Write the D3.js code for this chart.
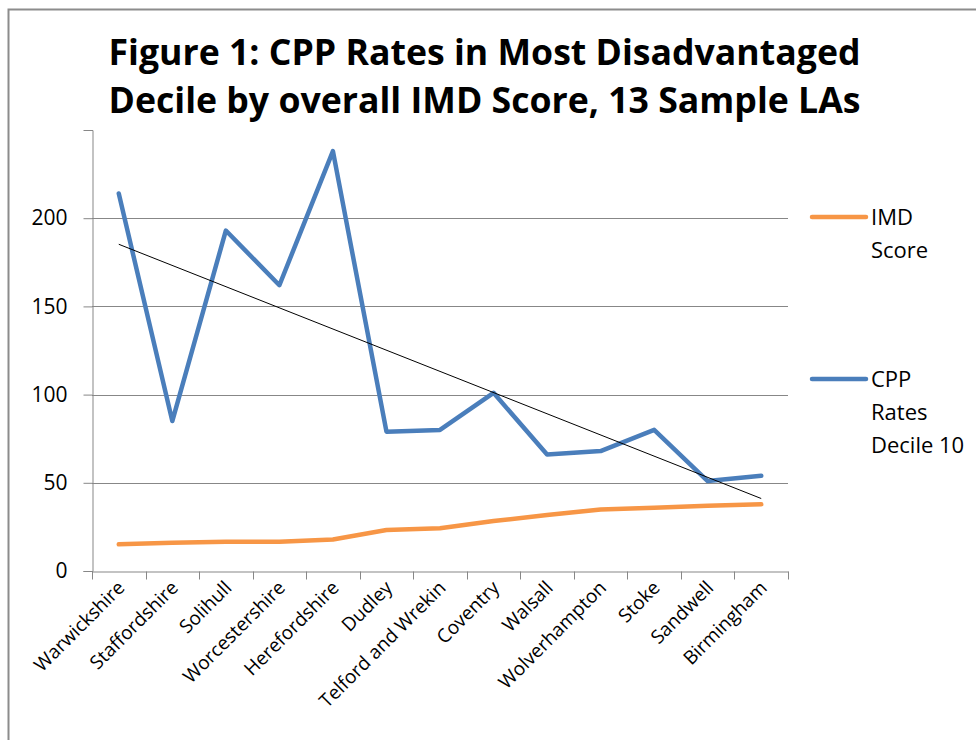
<!DOCTYPE html>
<html>
<head>
<meta charset="utf-8">
<script src="https://cdn.jsdelivr.net/npm/d3@7"></script>
<style>
  html, body { margin: 0; padding: 0; background: #fff; }
  svg { display: block; }
</style>
</head>
<body>
<svg id="chart" width="976" height="740"></svg>
<script>
const categories = ["Warwickshire", "Staffordshire", "Solihull", "Worcestershire", "Herefordshire", "Dudley", "Telford and Wrekin", "Coventry", "Walsall", "Wolverhampton", "Stoke", "Sandwell", "Birmingham"];
const imdScore = [15.1, 16.0, 16.6, 16.6, 17.9, 23.2, 24.2, 28.3, 31.7, 34.9, 35.9, 37.0, 37.8];
const cppRates = [214, 85, 193, 162, 238, 79, 80, 101, 66, 68, 80, 51, 54];
const yTicks = [0, 50, 100, 150, 200];
const titleLines = ["Figure 1: CPP Rates in Most Disadvantaged", "Decile by overall IMD Score, 13 Sample LAs"];
const legendItems = [
  { lines: ["IMD", "Score"], color: "#f79646" },
  { lines: ["CPP", "Rates", "Decile 10"], color: "#4a7ebb" }
];

const svg = d3.select("#chart");
const font = "'Open Sans', 'Noto Sans', sans-serif";

// Frame
svg.append("rect").attr("x", 8.5).attr("y", 9.5).attr("width", 1000).attr("height", 760)
  .attr("fill", "#fff").attr("stroke", "#8c8c8c").attr("stroke-width", 2);

// Title
svg.selectAll("text.title").data(titleLines).join("text")
  .attr("class", "title")
  .attr("x", 484.5).attr("y", (d, i) => 65 + i * 48)
  .attr("text-anchor", "middle")
  .attr("font-family", font).attr("font-weight", "bold").attr("font-size", 36)
  .attr("textLength", 752).attr("lengthAdjust", "spacingAndGlyphs")
  .attr("fill", "#000")
  .text(d => d);

const plotLeft = 92, plotRight = 788, plotTop = 130, plotBottom = 571;
const x = d3.scaleBand().domain(categories).range([plotLeft, plotRight]).padding(0);
const y = d3.scaleLinear().domain([0, 250]).range([plotBottom, plotTop]);
const cx = d => x(d) + x.bandwidth() / 2;

// Gridlines
svg.append("g").selectAll("line").data(yTicks.filter(t => t > 0)).join("line")
  .attr("x1", plotLeft).attr("x2", plotRight)
  .attr("y1", d => Math.round(y(d)) + 0.5).attr("y2", d => Math.round(y(d)) + 0.5)
  .attr("stroke", "#878787").attr("stroke-width", 1);

// Y axis
const yAxis = svg.append("g").attr("transform", `translate(${plotLeft + 0.5},0)`)
  .call(d3.axisLeft(y).tickValues(yTicks).tickSize(9).tickPadding(16));
yAxis.select(".domain").attr("stroke", "#878787");
yAxis.selectAll(".tick line").attr("stroke", "#878787");
yAxis.selectAll(".tick text").attr("font-family", font).attr("font-size", 21).attr("fill", "#000");

// X axis
const xAxis = svg.append("g").attr("transform", `translate(0,${plotBottom + 0.5})`)
  .call(d3.axisBottom(x).tickSize(0).tickFormat(""));
xAxis.select(".domain").attr("stroke", "#878787");
const boundaries = d3.range(categories.length + 1).map(i => plotLeft + i * x.bandwidth());
xAxis.append("g").selectAll("line").data(boundaries).join("line")
  .attr("x1", d => Math.round(d) + 0.5).attr("x2", d => Math.round(d) + 0.5)
  .attr("y1", 0).attr("y2", 8).attr("stroke", "#878787");

// X labels rotated
svg.append("g").selectAll("text").data(categories).join("text")
  .attr("transform", d => `translate(${cx(d) + 7},${plotBottom + 18}) rotate(-45)`)
  .attr("text-anchor", "end")
  .attr("font-family", font).attr("font-size", 19).attr("fill", "#000")
  .text(d => d);

// Lines
const line = d3.line().x((d, i) => cx(categories[i])).y(d => y(d));
svg.append("path").datum(imdScore).attr("d", line)
  .attr("fill", "none").attr("stroke", "#f79646").attr("stroke-width", 4.5)
  .attr("stroke-linejoin", "round").attr("stroke-linecap", "round");
svg.append("path").datum(cppRates).attr("d", line)
  .attr("fill", "none").attr("stroke", "#4a7ebb").attr("stroke-width", 4.5)
  .attr("stroke-linejoin", "round").attr("stroke-linecap", "round");

// Linear trendline for CPP rates
const n = cppRates.length;
const xs = d3.range(1, n + 1);
const mx = d3.mean(xs), my = d3.mean(cppRates);
const slope = d3.sum(xs, (v, i) => (v - mx) * (cppRates[i] - my)) / d3.sum(xs, v => (v - mx) ** 2);
const icpt = my - slope * mx;
svg.append("line")
  .attr("x1", cx(categories[0])).attr("y1", y(icpt + slope * 1))
  .attr("x2", cx(categories[n - 1])).attr("y2", y(icpt + slope * n))
  .attr("stroke", "#000").attr("stroke-width", 1);

// Legend
const legendY = [217, 379];
legendItems.forEach((item, k) => {
  const g = svg.append("g");
  g.append("line").attr("x1", 812).attr("x2", 866).attr("y1", legendY[k]).attr("y2", legendY[k])
    .attr("stroke", item.color).attr("stroke-width", 4.5).attr("stroke-linecap", "round");
  g.selectAll("text").data(item.lines).join("text")
    .attr("x", 871).attr("y", (d, i) => legendY[k] + 8 + i * 33)
    .attr("font-family", font).attr("font-size", 22).attr("fill", "#000")
    .text(d => d);
});
</script>
</body>
</html>
